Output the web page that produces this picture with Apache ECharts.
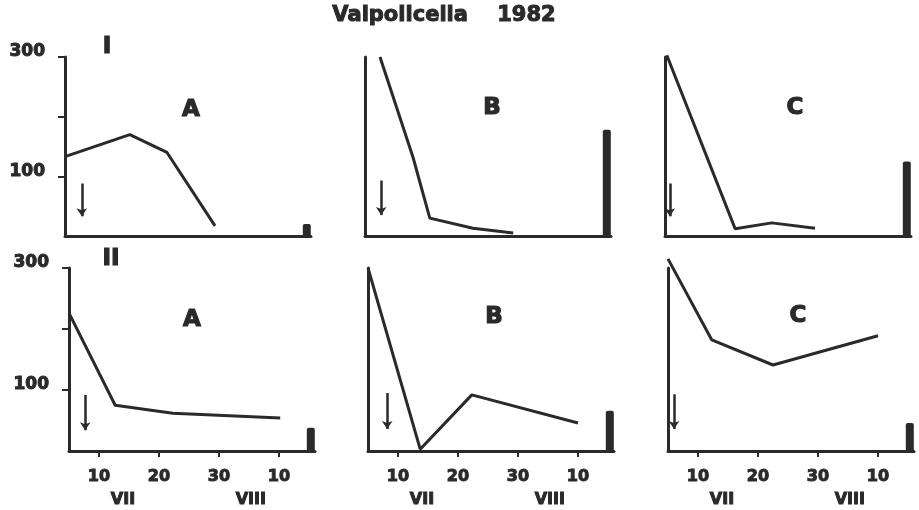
<!DOCTYPE html>
<html><head><meta charset="utf-8">
<script src="https://cdn.jsdelivr.net/npm/echarts@6/dist/echarts.min.js"></script>
<style>html,body{margin:0;padding:0;background:#fff}#c{width:919px;height:510px}</style>
</head><body><div id="c"></div>
<script>
// ---- data (x = day counted from 1 July; 40 = 10 August) ----
const panelNames = ['A','B','C','A','B','C'];
const days_IA  = [5, 15.8, 22, 30];
const vals_IA  = [133, 170, 140, 17];
const days_IB  = [7.5, 13, 15.8, 23, 29.7];
const vals_IB  = [300, 132, 30, 13, 5];
const days_IC  = [5.3, 16.7, 22.8, 30];
const vals_IC  = [303, 12, 22, 13];
const days_IIA = [5, 12.7, 22.3, 40.2];
const vals_IIA = [226, 75, 62, 54];
const days_IIB = [5, 13.7, 22.3, 40];
const vals_IIB = [300, 3, 92, 46];
const days_IIC = [5, 12.3, 22.5, 40];
const vals_IIC = [315, 182, 141, 189];
// bar at the right end of each panel
const barDay = 45.3;
const barVals = [20, 178, 125, 38, 66, 46];
// arrows: day, top value, bottom value
const arrowDays = [7.8, 7.7, 5.8, 7.7, 8.2, 6.0];
const arrowTop  = [88, 93, 88, 92, 95, 93];
const arrowBot  = [33, 35, 33, 34, 36, 36];
// ticks
const xTickValues = [10, 20, 30, 40];
const xTickLabels = ['10', '20', '30', '10'];
const monthPos = [14, 35.3];
const monthLabels = ['VII', 'VIII'];
const yTickValues = [100, 200, 300];
const yLabelValues = [100, 300];

const lineDays = [days_IA, days_IB, days_IC, days_IIA, days_IIB, days_IIC];
const lineVals = [vals_IA, vals_IB, vals_IC, vals_IIA, vals_IIB, vals_IIC];

const INK = '#2a2a2a';
const FONT = 'DejaVu Sans';
const gridPos = [
  {left: 65, top: 57, width: 246, height: 179},
  {left: 365, top: 57, width: 246, height: 179},
  {left: 665, top: 57, width: 246, height: 179},
  {left: 69, top: 268, width: 246, height: 183},
  {left: 368, top: 268, width: 246, height: 183},
  {left: 668, top: 268, width: 246, height: 183}
];
const letterPos = [[191,110],[492,108],[795,108],[192,320],[494,317],[798,316]];

const heavy = {textBorderColor: INK, textBorderWidth: 1};
function gtext(txt, x, y, size, lw) {
  return {type: 'text', x: x, y: y, style: {text: txt, fontFamily: FONT, fontWeight: 'bold', fontSize: size,
    fill: INK, stroke: INK, lineWidth: lw, textAlign: 'center', textVerticalAlign: 'middle'}};
}

const grids = [], xAxes = [], yAxes = [], series = [], graphics = [];
for (let i = 0; i < 6; i++) {
  const bottomRow = i >= 3, firstCol = (i % 3) === 0;
  grids.push(Object.assign({containLabel: false}, gridPos[i]));
  xAxes.push({
    type: 'value', gridIndex: i, min: 5, max: 46, splitLine: {show: false},
    axisLine: {show: true, lineStyle: {color: INK, width: 3}},
    axisTick: {show: bottomRow, customValues: xTickValues, length: 6, lineStyle: {color: INK, width: 2}},
    axisLabel: Object.assign({show: bottomRow, customValues: xTickValues, margin: 18,
      formatter: v => xTickLabels[xTickValues.indexOf(v)] || '',
      fontFamily: FONT, fontWeight: 'bold', fontSize: 16, color: INK}, heavy)
  });
  yAxes.push({
    type: 'value', gridIndex: i, min: 0, max: 300, splitLine: {show: false},
    axisLine: {show: true, onZero: false, lineStyle: {color: INK, width: 3}},
    axisTick: {show: firstCol, customValues: yTickValues, length: 7, lineStyle: {color: INK, width: 2}},
    axisLabel: Object.assign({show: firstCol, customValues: yLabelValues, margin: 20, verticalAlign: 'bottom',
      lineHeight: 10,
      fontFamily: FONT, fontWeight: 'bold', fontSize: 17, color: INK}, heavy)
  });
  const data = lineDays[i].map((d, k) => [d, lineVals[i][k]]);
  series.push({
    type: 'line', xAxisIndex: i, yAxisIndex: i, data: data, symbol: 'none', clip: false,
    lineStyle: {color: INK, width: 3}, animation: false, silent: true,
    markLine: {
      silent: true, animation: false, symbol: ['none', 'arrow'], symbolSize: 8,
      label: {show: false},
      lineStyle: {color: INK, width: 2.5, type: 'solid'},
      data: [[{coord: [arrowDays[i], arrowTop[i]]}, {coord: [arrowDays[i], arrowBot[i]]}]]
    }
  });
  series.push({
    type: 'bar', xAxisIndex: i, yAxisIndex: i, data: [[barDay, barVals[i]]], barWidth: 8,
    itemStyle: {color: INK, borderRadius: [2, 2, 0, 0]}, animation: false, silent: true
  });
  graphics.push(gtext(panelNames[i], letterPos[i][0], letterPos[i][1], 23, 1.2));
}
// month labels: extra x axes on the bottom row
for (let i = 3; i < 6; i++) {
  xAxes.push({
    type: 'value', gridIndex: i, min: 5, max: 46, position: 'bottom', offset: 23,
    splitLine: {show: false}, axisLine: {show: false}, axisTick: {show: false},
    axisLabel: Object.assign({show: true, customValues: monthPos, margin: 18,
      formatter: v => monthLabels[monthPos.indexOf(v)] || '',
      fontFamily: FONT, fontWeight: 'bold', fontSize: 16, color: INK}, heavy)
  });
}
graphics.push(gtext('Valpolicella    1982', 444, 16, 21, 1));
graphics.push(gtext('I', 107, 47, 23, 1.2));
graphics.push(gtext('II', 111, 259, 23, 1.2));

const chart = echarts.init(document.getElementById('c'), null, {renderer: 'canvas'});
chart.setOption({
  backgroundColor: '#fff', animation: false,
  grid: grids, xAxis: xAxes, yAxis: yAxes, series: series, graphic: graphics
});
</script></body></html>
